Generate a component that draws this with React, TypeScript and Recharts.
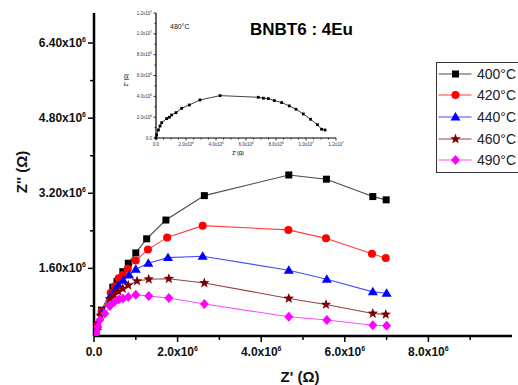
import { LineChart, Line, XAxis, YAxis, Legend } from 'recharts';

// Z' (x) and Z'' (y) in units of 10^6 ohm
const zr400 = [0.02, 0.07, 0.18, 0.45, 0.55, 0.69, 0.82, 1.0, 1.26, 1.72, 2.64, 4.66, 5.56, 6.67, 6.99];
const zi400 = [0.2, 0.4, 0.71, 1.2, 1.32, 1.53, 1.71, 1.93, 2.23, 2.63, 3.15, 3.59, 3.5, 3.13, 3.06];

const zr420 = [0.02, 0.07, 0.18, 0.4, 0.5, 0.59, 0.69, 0.81, 1.0, 1.29, 1.75, 2.6, 4.65, 5.55, 6.65, 6.98];
const zi420 = [0.18, 0.38, 0.68, 1.08, 1.22, 1.39, 1.46, 1.59, 1.77, 2.0, 2.26, 2.51, 2.42, 2.24, 1.91, 1.82];

const zr440 = [0.02, 0.07, 0.18, 0.4, 0.5, 0.59, 0.7, 0.84, 1.0, 1.3, 1.77, 2.6, 4.66, 5.57, 6.67, 7.0];
const zi440 = [0.17, 0.36, 0.66, 1.02, 1.14, 1.24, 1.35, 1.46, 1.58, 1.71, 1.83, 1.86, 1.56, 1.37, 1.1, 1.07];

const zr460 = [0.02, 0.07, 0.16, 0.38, 0.48, 0.58, 0.69, 0.82, 1.03, 1.31, 1.79, 2.64, 4.66, 5.55, 6.67, 6.98];
const zi460 = [0.16, 0.34, 0.6, 0.95, 1.04, 1.11, 1.17, 1.24, 1.33, 1.37, 1.38, 1.29, 0.96, 0.83, 0.64, 0.62];

const zr490 = [0.02, 0.05, 0.09, 0.14, 0.26, 0.38, 0.49, 0.59, 0.69, 0.82, 1.0, 1.31, 1.79, 2.64, 4.66, 5.57, 6.67, 7.0];
const zi490 = [0.1, 0.22, 0.35, 0.5, 0.64, 0.8, 0.89, 0.94, 0.96, 0.99, 1.04, 1.01, 0.97, 0.84, 0.57, 0.5, 0.39, 0.38];

// inset, 480 C
const zrInset = [0, 0.04, 0.16, 0.27, 0.38, 0.71, 0.89, 1.04, 1.33, 1.71, 2.22, 2.93, 4.27, 6.82, 7.16, 7.49, 7.89, 8.38, 8.89, 9.33, 9.82, 10.3, 10.76, 11.04, 11.27];
const ziInset = [0, 0.29, 0.77, 1.15, 1.47, 1.86, 1.99, 2.21, 2.43, 2.85, 3.17, 3.65, 4.07, 3.91, 3.82, 3.78, 3.59, 3.4, 3.08, 2.76, 2.31, 1.8, 1.28, 0.84, 0.77];

const mainXTicks = [0, 1, 2, 3, 4, 5, 6, 7, 8, 9];
const mainYTicks = [0.8, 1.6, 2.4, 3.2, 4.0, 4.8, 5.6, 6.4];
const insetXTicks = [0, 0.5, 1, 1.5, 2, 2.5, 3, 3.5, 4, 4.5, 5, 5.5, 6, 6.5, 7, 7.5, 8, 8.5, 9, 9.5, 10, 10.5, 11, 11.5, 12];
const insetYTicks = [0, 1, 2, 3, 4, 5, 6, 7, 8, 9, 10, 11, 12];

const toPoints = (xs: number[], ys: number[]) => xs.map((x, i) => ({ x, y: ys[i] }));

const series = [
  { name: '400°C', data: toPoints(zr400, zi400), shape: 'square', fill: '#000000', line: '#4a4a4a' },
  { name: '420°C', data: toPoints(zr420, zi420), shape: 'circle', fill: '#ff0000', line: '#ff3c3c' },
  { name: '440°C', data: toPoints(zr440, zi440), shape: 'triangle', fill: '#0000ff', line: '#4b4bff' },
  { name: '460°C', data: toPoints(zr460, zi460), shape: 'star', fill: '#800000', line: '#9a4040' },
  { name: '490°C', data: toPoints(zr490, zi490), shape: 'diamond', fill: '#ff00ff', line: '#ff4dff' },
];
const insetData = toPoints(zrInset, ziInset);

const FONT = '"Liberation Sans", Arial, sans-serif';

function Marker({ cx, cy, shape, color }: { cx: number; cy: number; shape: string; color: string }) {
  if (shape === 'square') return <rect x={cx - 3.5} y={cy - 3.5} width={7} height={7} fill={color} />;
  if (shape === 'circle') return <circle cx={cx} cy={cy} r={4} fill={color} />;
  if (shape === 'triangle')
    return <polygon points={`${cx},${cy - 5} ${cx - 5},${cy + 3.5} ${cx + 5},${cy + 3.5}`} fill={color} />;
  if (shape === 'diamond')
    return <polygon points={`${cx},${cy - 5} ${cx + 4.5},${cy} ${cx},${cy + 5} ${cx - 4.5},${cy}`} fill={color} />;
  const pts: string[] = [];
  for (let i = 0; i < 10; i++) {
    const r = i % 2 === 0 ? 5.5 : 2.3;
    const a = -Math.PI / 2 + (i * Math.PI) / 5;
    pts.push(`${cx + r * Math.cos(a)},${cy + r * Math.sin(a)}`);
  }
  return <polygon points={pts.join(' ')} fill={color} />;
}

function MainXTick({ x, y, payload }: any) {
  const v = payload.value;
  const major = v % 2 === 0;
  return (
    <g>
      <line x1={x} x2={x} y1={y} y2={y + (major ? 6 : 4)} stroke="#000" strokeWidth={1.5} />
      {major && (
        <text x={x} y={y + 20} textAnchor="middle" fontFamily={FONT} fontWeight="bold" fontSize={12} fill="#111">
          {v === 0 ? '0.0' : `${v.toFixed(1)}x10`}
          {v !== 0 && <tspan dy={-5} fontSize={7}>6</tspan>}
        </text>
      )}
    </g>
  );
}

function MainYTick({ x, y, payload }: any) {
  const v = payload.value;
  const major = Math.round(v / 0.8) % 2 === 0;
  return (
    <g>
      <line x1={x} x2={x - (major ? 6 : 4)} y1={y} y2={y} stroke="#000" strokeWidth={1.5} />
      {major && (
        <text x={x - 8} y={y + 4} textAnchor="end" fontFamily={FONT} fontWeight="bold" fontSize={12} fill="#111">
          {`${v.toFixed(2)}x10`}
          <tspan dy={-5} fontSize={7}>6</tspan>
        </text>
      )}
    </g>
  );
}

function insetLabel(v: number) {
  if (v === 0) return { base: '0.0', exp: '' };
  if (v >= 10) return { base: `${(v / 10).toFixed(1)}x10`, exp: '7' };
  return { base: `${v.toFixed(1)}x10`, exp: '6' };
}

function InsetXTick({ x, y, payload }: any) {
  const v = payload.value;
  const major = v % 2 === 0;
  const lab = insetLabel(v);
  return (
    <g>
      <line x1={x} x2={x} y1={y} y2={y + (major ? 2.5 : 1.5)} stroke="#000" strokeWidth={0.8} />
      {major && (
        <text x={x} y={y + 8} textAnchor="middle" fontFamily={FONT} fontSize={4.5} fill="#333">
          {lab.base}
          {lab.exp && <tspan dy={-2} fontSize={3}>{lab.exp}</tspan>}
        </text>
      )}
    </g>
  );
}

function InsetYTick({ x, y, payload }: any) {
  const v = payload.value;
  const major = v % 2 === 0;
  const lab = insetLabel(v);
  return (
    <g>
      <line x1={x} x2={x - (major ? 2.5 : 1.5)} y1={y} y2={y} stroke="#000" strokeWidth={0.8} />
      {major && (
        <text x={x - 4} y={y + 1.5} textAnchor="end" fontFamily={FONT} fontSize={4.5} fill="#333">
          {lab.base}
          {lab.exp && <tspan dy={-2} fontSize={3}>{lab.exp}</tspan>}
        </text>
      )}
    </g>
  );
}

function LegendBox() {
  return (
    <div
      style={{
        border: '1.5px solid #333',
        width: 100,
        height: 111,
        boxSizing: 'border-box',
        background: '#fff',
        fontFamily: FONT,
        fontSize: 14,
        color: '#222',
      }}
    >
      {series.map((s) => (
        <div key={s.name} style={{ height: 21.6, display: 'flex', alignItems: 'center' }}>
          <svg width={40} height={20} style={{ display: 'block' }}>
            <line x1={1.5} x2={34.5} y1={10} y2={10} stroke={s.line} strokeWidth={1.2} />
            <Marker cx={18.5} cy={10} shape={s.shape} color={s.fill} />
          </svg>
          <span>{s.name}</span>
        </div>
      ))}
    </div>
  );
}

export default function App() {
  return (
    <div style={{ position: 'absolute', left: 0, top: 0, width: 518, height: 385, background: '#fff', overflow: 'hidden' }}>
      <LineChart width={518} height={385} margin={{ top: 13, right: 6, left: 0, bottom: 0 }}>
        <XAxis
          type="number"
          dataKey="x"
          domain={[0, 10]}
          ticks={mainXTicks}
          interval={0}
          allowDataOverflow
          height={49}
          tickSize={0}
          tickMargin={0}
          tickLine={false}
          axisLine={{ stroke: '#000', strokeWidth: 2.5 }}
          tick={<MainXTick />}
        />
        <YAxis
          type="number"
          dataKey="y"
          domain={[0.16, 7.04]}
          ticks={mainYTicks}
          interval={0}
          allowDataOverflow
          width={94}
          tickSize={0}
          tickMargin={0}
          tickLine={false}
          axisLine={{ stroke: '#000', strokeWidth: 2.5 }}
          tick={<MainYTick />}
        />
        <Legend
          layout="vertical"
          align="center"
          verticalAlign="middle"
          content={() => <LegendBox />}
          wrapperStyle={{ left: 436, top: 62, width: 100, height: 111 }}
        />
        {series.map((s) => (
          <Line
            key={s.name}
            name={s.name}
            data={s.data}
            dataKey="y"
            type="linear"
            stroke={s.line}
            strokeWidth={1.1}
            isAnimationActive={false}
            dot={(p: any) => <Marker key={`${s.name}-${p.index}`} cx={p.cx} cy={p.cy} shape={s.shape} color={s.fill} />}
            activeDot={false}
          />
        ))}
      </LineChart>

      <div style={{ position: 'absolute', left: 100, top: 0 }}>
        <LineChart width={245} height={160} margin={{ top: 13, right: 9, left: 0, bottom: 0 }}>
          <XAxis
            type="number"
            dataKey="x"
            domain={[0, 12]}
            ticks={insetXTicks}
            interval={0}
            height={22}
            tickSize={0}
            tickMargin={0}
            tickLine={false}
            axisLine={{ stroke: '#000', strokeWidth: 1.2 }}
            tick={<InsetXTick />}
          />
          <YAxis
            type="number"
            dataKey="y"
            domain={[0, 12]}
            ticks={insetYTicks}
            interval={0}
            width={56}
            tickSize={0}
            tickMargin={0}
            tickLine={false}
            axisLine={{ stroke: '#000', strokeWidth: 1.2 }}
            tick={<InsetYTick />}
          />
          <Line
            data={insetData}
            dataKey="y"
            type="linear"
            stroke="#111"
            strokeWidth={0.8}
            isAnimationActive={false}
            dot={(p: any) => <rect key={`in-${p.index}`} x={p.cx - 1.4} y={p.cy - 1.4} width={2.8} height={2.8} fill="#000" />}
            activeDot={false}
          />
        </LineChart>
      </div>

      <div style={{ position: 'absolute', left: 170, top: 23, fontFamily: FONT, fontSize: 7, color: '#222' }}>
        480°C
      </div>
      <div
        style={{
          position: 'absolute',
          left: 126,
          top: 80,
          fontFamily: FONT,
          fontSize: 4.5,
          fontWeight: 'bold',
          color: '#333',
          transform: 'translate(-50%, -50%) rotate(-90deg)',
          whiteSpace: 'nowrap',
        }}
      >
        Z'' (Ω)
      </div>
      <div
        style={{
          position: 'absolute',
          left: 238,
          top: 153,
          fontFamily: FONT,
          fontSize: 4.5,
          fontWeight: 'bold',
          color: '#333',
          transform: 'translate(-50%, -50%)',
          whiteSpace: 'nowrap',
        }}
      >
        Z' (Ω)
      </div>

      <div
        style={{
          position: 'absolute',
          left: 250,
          top: 20,
          fontFamily: FONT,
          fontSize: 17,
          fontWeight: 'bold',
          color: '#000',
          whiteSpace: 'nowrap',
        }}
      >
        BNBT6 : 4Eu
      </div>
      <div
        style={{
          position: 'absolute',
          left: 300,
          top: 376,
          fontFamily: FONT,
          fontSize: 15,
          fontWeight: 'bold',
          color: '#111',
          transform: 'translate(-50%, -50%)',
          whiteSpace: 'nowrap',
        }}
      >
        Z' (Ω)
      </div>
      <div
        style={{
          position: 'absolute',
          left: 21,
          top: 172,
          fontFamily: FONT,
          fontSize: 15,
          fontWeight: 'bold',
          color: '#111',
          transform: 'translate(-50%, -50%) rotate(-90deg)',
          whiteSpace: 'nowrap',
        }}
      >
        Z'' (Ω)
      </div>
    </div>
  );
}
